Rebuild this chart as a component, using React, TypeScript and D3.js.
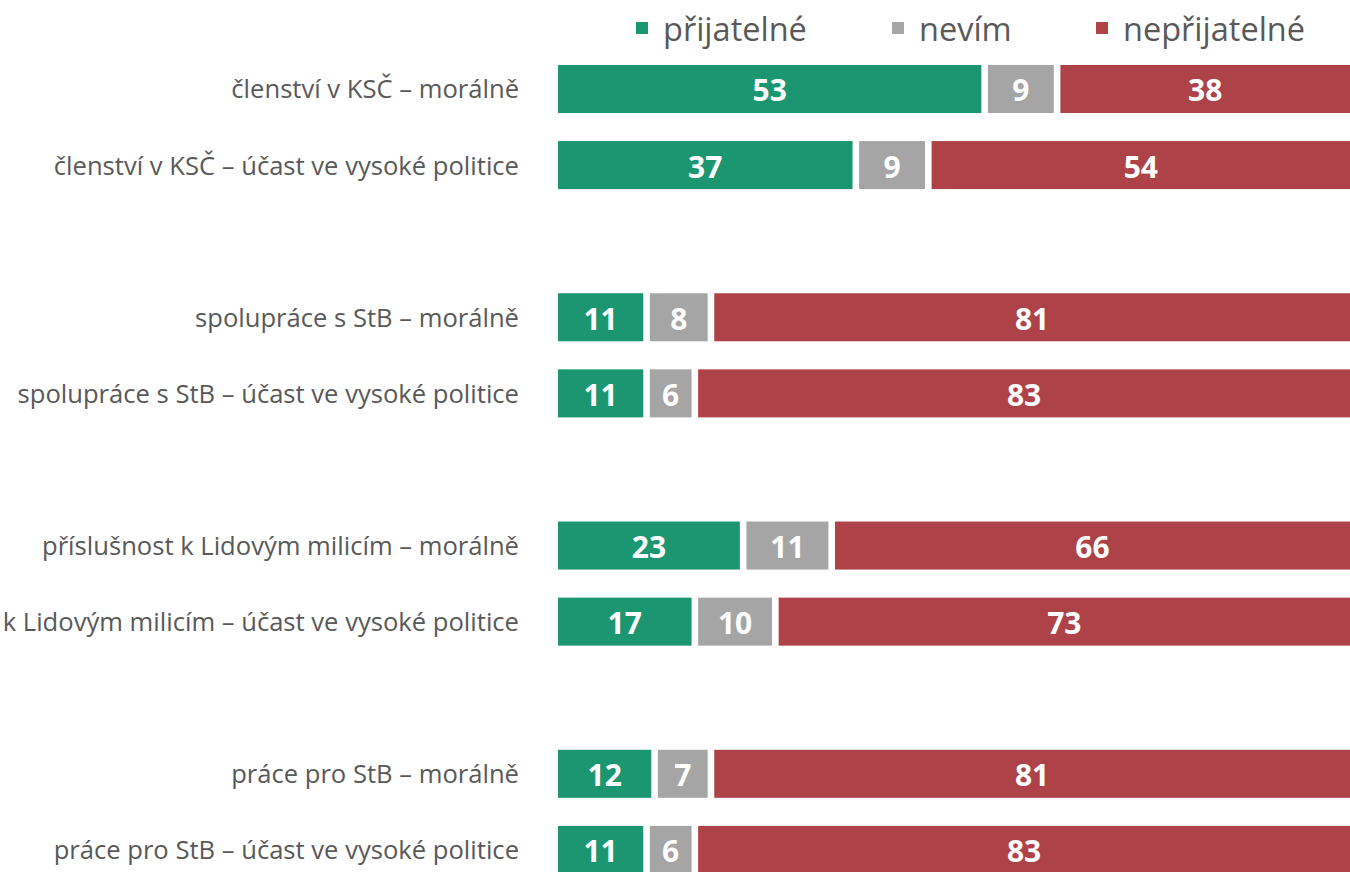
import React from "react";
import * as d3 from "d3";

const categories = [
  "členství v KSČ – morálně",
  "členství v KSČ – účast ve vysoké politice",
  "spolupráce s StB – morálně",
  "spolupráce s StB – účast ve vysoké politice",
  "příslušnost k Lidovým milicím – morálně",
  "příslušnost k Lidovým milicím – účast ve vysoké politice",
  "práce pro StB – morálně",
  "práce pro StB – účast ve vysoké politice",
];
const accept = [53, 37, 11, 11, 23, 17, 12, 11];
const dontKnow = [9, 9, 8, 6, 11, 10, 7, 6];
const reject = [38, 54, 81, 83, 66, 73, 81, 83];
const seriesNames = ["přijatelné", "nevím", "nepřijatelné"];
const colors = ["#1b9670", "#a5a5a5", "#ae4249"];

const W = 1350;
const H = 872;

export default function App() {
  const slots: string[] = [];
  categories.forEach((c, i) => {
    if (i > 0 && i % 2 === 0) slots.push("__gap" + i);
    slots.push(c);
  });
  const p = 0.369;
  const y = d3.scaleBand<string>().domain(slots).range([36.9, 902]).padding(p);
  const x = d3.scaleLinear().domain([0, 100]).range([558, 1363]);
  const series = [accept, dontKnow, reject];
  const gap = 3.3;
  const font = "'Open Sans', sans-serif";

  const legendX = [636, 892, 1096];

  return (
    <svg width={W} height={H} style={{ position: "absolute", left: 0, top: 0, background: "#fff" }} fontFamily={font}>
      {seriesNames.map((n, i) => (
        <g key={n}>
          <rect x={legendX[i]} y={22} width={12} height={12} fill={colors[i]} />
          <text x={legendX[i] + 27} y={28} dominantBaseline="central" fontSize={32.5} fill="#595959">{n}</text>
        </g>
      ))}
      {categories.map((c, i) => {
        const y0 = y(c)!;
        const bh = y.bandwidth();
        let cum = 0;
        return (
          <g key={c}>
            <text x={519} y={y0 + bh / 2} textAnchor="end" dominantBaseline="central" fontSize={25.6} fill="#595959">{c}</text>
            {series.map((s, j) => {
              const v = s[i];
              const start = cum;
              cum += v;
              const x0 = x(start) + (j > 0 ? gap : 0);
              const x1 = x(cum) - (j < series.length - 1 ? gap : 0);
              return (
                <g key={j}>
                  <rect x={x0} y={y0} width={x1 - x0} height={bh} fill={colors[j]} />
                  <text x={(x0 + Math.min(x1, W)) / 2} y={y0 + bh / 2 + 1} textAnchor="middle" dominantBaseline="central" fontSize={30} fontWeight="bold" fill="#fff">{v}</text>
                </g>
              );
            })}
          </g>
        );
      })}
    </svg>
  );
}
